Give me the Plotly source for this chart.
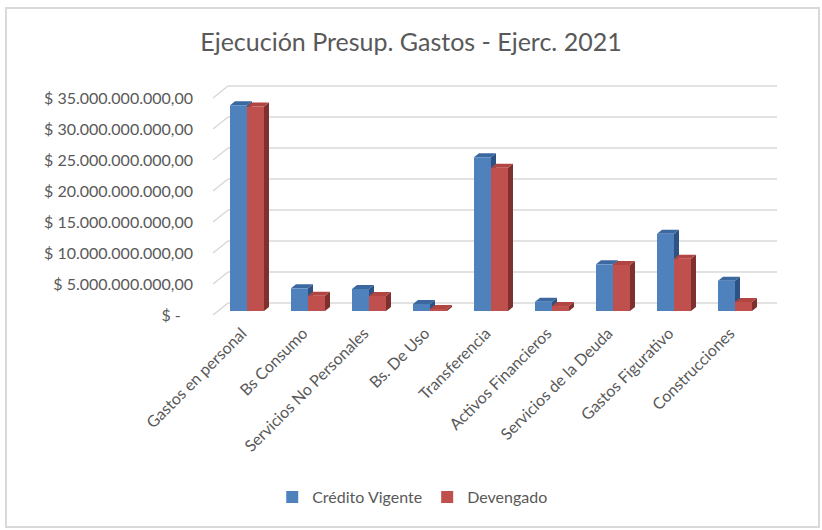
import plotly.graph_objects as go

# ---------------- data ----------------
categorias = ["Gastos en personal", "Bs Consumo", "Servicios No Personales", "Bs. De Uso",
              "Transferencia", "Activos Financieros", "Servicios de la Deuda",
              "Gastos Figurativo", "Construcciones"]
credito_vigente = [33.2e9, 3.66e9, 3.55e9, 1.13e9, 24.8e9, 1.5e9, 7.53e9, 12.47e9, 4.89e9]
devengado = [33.0e9, 2.47e9, 2.42e9, 0.32e9, 23.1e9, 0.8e9, 7.42e9, 8.44e9, 1.45e9]
series_names = ["Crédito Vigente", "Devengado"]
y_tick_vals = [0, 5e9, 10e9, 15e9, 20e9, 25e9, 30e9, 35e9]
y_tick_text = ["$ -\u00a0\u00a0\u00a0", "$ 5.000.000.000,00", "$ 10.000.000.000,00", "$ 15.000.000.000,00",
               "$ 20.000.000.000,00", "$ 25.000.000.000,00", "$ 30.000.000.000,00",
               "$ 35.000.000.000,00"]

# ---------------- style / geometry ----------------
W, H = 822, 530
PLOT_L, PLOT_R, PLOT_T, PLOT_B = 200, 790, 84, 320
PX_CAT = 61.0          # pixels per category
CAT0_PX = 242.0        # pixel of category 0 in the front plane
Y0_PX = 315.0          # pixel of value 0 in the front plane
PX_PER_VAL = 6.2 / 1e9

x_rng = [(PLOT_L - CAT0_PX) / PX_CAT, (PLOT_R - CAT0_PX) / PX_CAT]
y_rng = [(Y0_PX - PLOT_B) / PX_PER_VAL, (Y0_PX - PLOT_T) / PX_PER_VAL]

BAR_W = 17 / PX_CAT          # width of each bar
DX = 5 / PX_CAT              # one depth step (x)
DY = 4 / PX_PER_VAL          # one depth step (y)
FLOOR_L = (213 - CAT0_PX) / PX_CAT
WALL_R = (777 - CAT0_PX) / PX_CAT

fronts = ["#4F81BD", "#C0504D"]
tops = ["#3B699F", "#B04542"]
sides = ["#2D5283", "#7E302E"]
grid_col = "#D9D9D9"
text_col = "#595959"
FONT = "Lato"

xs = list(range(len(categorias)))
fig = go.Figure()
shapes = []

# back wall gridlines + left side diagonals
for v in y_tick_vals:
    shapes.append(dict(type="line", xref="x", yref="y", layer="below",
                       x0=FLOOR_L + 3 * DX, x1=WALL_R, y0=v + 3 * DY, y1=v + 3 * DY,
                       line=dict(color=grid_col, width=1.6)))
    shapes.append(dict(type="line", xref="x", yref="y", layer="below",
                       x0=FLOOR_L, x1=FLOOR_L + 3 * DX, y0=v, y1=v + 3 * DY,
                       line=dict(color=grid_col, width=1.6)))

offsets = [-BAR_W + DX, DX]
for k, (vals, name) in enumerate(zip([credito_vigente, devengado], series_names)):
    fig.add_trace(go.Bar(x=xs, y=vals, name=name, base=DY, width=BAR_W, offset=offsets[k],
                         marker=dict(color=fronts[k], line=dict(width=0))))
    for i, v in zip(xs, vals):
        xl = i + offsets[k]
        xr = xl + BAR_W
        b = DY
        t = DY + v
        shapes.append(dict(type="path", xref="x", yref="y", layer="below",
                           path=f"M {xr},{b} L {xr + DX},{b + DY} L {xr + DX},{t + DY} L {xr},{t} Z",
                           fillcolor=sides[k], line=dict(width=0)))
        shapes.append(dict(type="path", xref="x", yref="y", layer="below",
                           path=f"M {xl},{t} L {xr},{t} L {xr + DX},{t + DY} L {xl + DX},{t + DY} Z",
                           fillcolor=tops[k], line=dict(width=0)))

# outer chart border
pw, ph = PLOT_R - PLOT_L, PLOT_B - PLOT_T
shapes.append(dict(type="rect", xref="paper", yref="paper", layer="above",
                   x0=(6 - PLOT_L) / pw, x1=(819 - PLOT_L) / pw,
                   y0=(PLOT_B - 527) / ph, y1=(PLOT_B - 8) / ph,
                   line=dict(color="#D9D9D9", width=2)))

fig.update_layout(
    width=W, height=H,
    margin=dict(l=PLOT_L, r=W - PLOT_R, t=PLOT_T, b=H - PLOT_B, pad=0),
    paper_bgcolor="white", plot_bgcolor="white",
    barmode="overlay",
    shapes=shapes,
    font=dict(family=FONT, color=text_col),
    title=dict(text="Ejecución Presup. Gastos - Ejerc. 2021", x=0.5, xref="container",
               y=1 - 42 / H, yref="container", xanchor="center", yanchor="middle",
               font=dict(family=FONT, size=25, color=text_col)),
    xaxis=dict(range=x_rng, tickmode="array", tickvals=xs, ticktext=categorias,
               tickangle=-45, showgrid=False, zeroline=False, showline=False, ticks="",
               tickfont=dict(family=FONT, size=16, color=text_col), fixedrange=True),
    yaxis=dict(range=y_rng, tickmode="array", tickvals=y_tick_vals, ticktext=y_tick_text,
               showgrid=False, zeroline=False, showline=False, ticks="", ticklabelstandoff=6,
               tickfont=dict(family=FONT, size=16, color=text_col), fixedrange=True),
    legend=dict(orientation="h", xref="container", yref="container", x=0.5015, y=1 - 497 / H,
                xanchor="center", yanchor="middle", font=dict(family=FONT, size=16, color=text_col),
                itemwidth=30, tracegroupgap=0),
    showlegend=True,
)

fig.write_html("out.html", config={"displayModeBar": False},
               post_script="document.body.style.margin='0px';")
